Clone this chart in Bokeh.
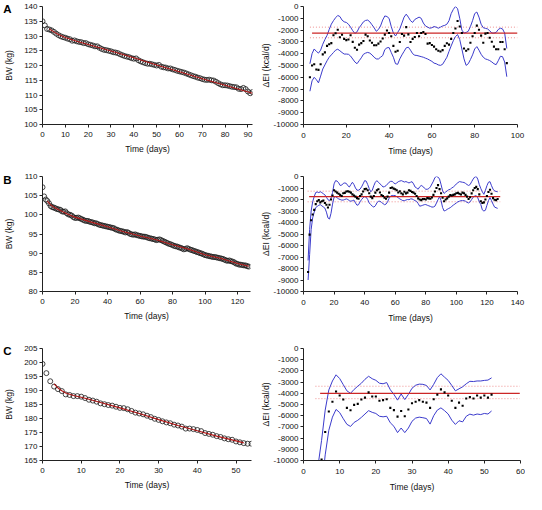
from bokeh.plotting import figure
from bokeh.layouts import column, row
from bokeh.models import Range1d, FixedTicker, LinearAxis
from bokeh.embed import file_html
from bokeh.resources import INLINE

# ---------------- data ----------------
# Panel A : body weight (kg), days 0..92
a_bw_days = list(range(0, 93))
a_bw = [135.0, 133.6, 132.4, 132.2, 131.9, 131.4, 130.8, 130.3, 129.9, 129.6,
        129.4, 129.1, 128.9, 128.4, 128.5, 128.2, 128.0, 127.9, 127.6, 127.6,
        127.2, 127.0, 126.8, 126.5, 126.5, 126.0, 125.6, 125.3, 125.2, 125.0,
        124.8, 124.5, 124.4, 124.2, 123.8, 123.5, 123.2, 123.0, 122.8, 122.5,
        122.3, 122.4, 121.8, 121.4, 121.1, 120.8, 120.6, 120.6, 120.4, 120.2,
        120.0, 120.2, 119.6, 119.4, 119.3, 119.0, 119.0, 118.7, 118.5, 118.2,
        118.0, 117.8, 117.6, 117.3, 117.0, 116.7, 116.4, 116.2, 115.9, 115.7,
        115.4, 115.2, 115.1, 115.2, 115.0, 114.9, 114.5, 114.0, 113.6, 113.3,
        113.3, 113.2, 113.0, 112.8, 112.7, 112.6, 112.1, 112.0, 112.4, 112.0,
        111.2, 110.6, 111.0]
a_fit_days = [3, 5, 7, 10, 15, 20, 25, 30, 40, 50, 60, 70, 80, 92]
a_fit = [132.4, 131.4, 130.5, 129.5, 128.2, 127.1, 126.0, 124.9, 122.6, 120.2, 117.9, 115.5, 113.3, 110.6]

# Panel A : change in energy intake (kcal/d), days 3..95
a_ei_days = list(range(3, 96))
a_ei = [-6000, -5000, -4900, -5340, -5370, -4900, -4060, -3890, -3340, -3200,
        -3100, -2440, -2270, -1970, -2600, -2400, -2740, -2850, -2800, -2440,
        -3000, -3500, -3670, -3230, -3100, -2930, -2380, -2520, -2880, -3070,
        -3290, -3290, -3150, -2960, -2710, -2380, -2030, -2250, -2520, -3340,
        -3840, -3750, -3010, -2330, -2470, -1750, -2360, -3010, -2740, -2580,
        -2250, -2520, -2250, -2160, -2330, -3150, -3100, -3260, -3400, -3620,
        -3750, -3810, -3700, -3340, -3120, -3230, -2740, -2250, -1860, -1230,
        -1700, -2250, -3560, -3750, -3620, -3070, -2520, -2250, -1620, -1970,
        -2470, -3070, -2300, -2250, -2650, -2990, -3400, -3620, -3620, -3010,
        -3010, -3620, -4800]
a_upper = [-4850, -4000, -3600, -3800, -3950, -3700, -3200, -2800, -2450, -1950,
           -1500, -1200, -950, -760, -850, -1150, -1300, -1350, -1500, -1750,
           -2050, -2280, -2150, -1800, -1560, -1300, -1180, -1150, -1300, -1550,
           -1800, -2100, -1950, -1650, -1150, -800, -850, -1010, -1700, -2250,
           -2500, -2200, -1900, -1400, -900, -650, -900, -1200, -1350, -1100,
           -1000, -900, -1000, -1400, -1650, -1750, -1840, -1800, -1700, -1750,
           -1840, -1750, -1650, -1600, -1500, -1200, -600, -250, 0, -190,
           -1000, -2000, -2250, -2200, -2100, -1700, -1200, -600, -470, -900,
           -1500, -1800, -1850, -1900, -2050, -2250, -2250, -2200, -1950, -1840,
           -1900, -2250, -3560]
a_lower = [-7180, -6300, -6000, -6200, -6470, -5900, -5300, -4950, -4600, -4300,
           -4100, -3900, -3700, -3620, -3750, -3900, -4030, -4030, -4050, -4200,
           -4450, -4700, -4850, -4600, -4350, -4050, -3950, -3890, -3950, -4100,
           -4300, -4440, -4450, -4300, -4160, -3650, -3500, -3480, -3900, -4300,
           -4850, -4900, -4440, -4100, -3800, -3500, -3450, -3700, -4000, -4130,
           -4150, -4200, -4250, -4300, -4380, -4450, -4550, -4650, -4800, -4850,
           -4950, -4990, -4900, -4600, -4300, -3800, -3340, -2900, -2550, -2380,
           -2800, -3600, -4440, -4990, -4850, -4500, -4100, -3600, -3400, -3700,
           -4050, -4300, -4440, -4500, -4580, -4700, -4850, -4930, -4600, -4220,
           -4250, -4710, -5950]
a_mean_span = [4, 100]
a_ci_span = [3, 100]
a_mean = -2250
a_ci = [-1750, -2650]

# Panel B : body weight (kg), days 0..127
b_bw_days = list(range(0, 128))
b_bw = [107.2, 104.8, 104.0, 103.6, 103.0, 102.3, 102.0, 101.9, 101.7, 101.5,
        101.4, 101.3, 100.9, 100.8, 100.9, 100.4, 100.1, 100.0, 99.8, 99.4,
        99.2, 99.2, 99.3, 99.1, 98.9, 98.7, 98.5, 98.4, 98.4, 98.2,
        98.1, 98.0, 97.8, 97.8, 97.6, 97.4, 97.3, 97.2, 97.1, 97.0,
        96.9, 96.8, 96.7, 96.6, 96.5, 96.2, 96.1, 95.9, 95.8, 95.7,
        95.6, 95.4, 95.5, 95.3, 95.0, 94.9, 94.8, 94.9, 94.7, 94.6,
        94.5, 94.4, 94.3, 94.3, 94.2, 94.0, 93.9, 93.8, 93.7, 93.6,
        93.4, 93.5, 93.6, 93.4, 93.2, 93.0, 92.8, 92.6, 92.4, 92.3,
        92.1, 91.9, 91.8, 91.7, 91.5, 91.4, 91.2, 91.0, 91.1, 91.3,
        91.1, 90.9, 90.8, 90.6, 90.5, 90.3, 90.2, 90.0, 89.9, 89.7,
        89.5, 89.4, 89.3, 89.2, 89.1, 89.0, 89.0, 88.9, 88.8, 88.7,
        88.6, 88.5, 88.3, 88.1, 88.0, 88.1, 87.9, 87.8, 87.6, 87.3,
        87.2, 87.0, 87.0, 86.9, 86.8, 86.8, 86.6, 86.5]
b_fit_days = [3, 5, 7, 10, 15, 20, 30, 40, 50, 60, 70, 80, 90, 100, 110, 120, 127]
b_fit = [103.6, 102.6, 102.0, 101.3, 100.3, 99.4, 98.1, 96.9, 95.6, 94.5, 93.5, 92.2, 91.0, 89.6, 88.6, 87.3, 86.6]

# Panel B : change in energy intake (kcal/d), days 3..127
b_ei_days = list(range(3, 128))
b_ei = [-8300, -5050, -3800, -3300, -2900, -2400, -2150, -2050, -2250, -2150,
        -2100, -2300, -2450, -2700, -2450, -2000, -1650, -1200, -1300, -1400,
        -1500, -1600, -1700, -1450, -1420, -1300, -1280, -1330, -1400, -1550,
        -1650, -1750, -1880, -1940, -1700, -1550, -1300, -1100, -1060, -1200,
        -1450, -1750, -1880, -1700, -1400, -1200, -1110, -1390, -1610, -1700,
        -1850, -1940, -1750, -1400, -1000, -950, -1050, -1110, -1200, -1390,
        -1280, -1450, -1550, -1330, -1470, -1400, -1200, -1250, -1350, -1400,
        -1500, -1700, -1900, -2000, -2050, -1970, -1950, -2000, -1880, -1900,
        -1940, -1830, -1600, -1300, -1000, -750, -1100, -1450, -1850, -2150,
        -2000, -1900, -1750, -1620, -1650, -1600, -1550, -1450, -1420, -1500,
        -1560, -1400, -1450, -1600, -1750, -1950, -1800, -1470, -1200, -1000,
        -900, -1100, -1550, -2150, -2300, -2250, -2000, -1700, -1350, -1150,
        -1500, -1880, -2020, -2050, -1950]
b_upper = [-7300, -4600, -3000, -2200, -1750, -1390, -1350, -1400, -1330, -1400,
           -1500, -1600, -1800, -2020, -2100, -1900, -1400, -640, -360, -400,
           -550, -780, -750, -600, -560, -600, -800, -915, -700, -500,
           -700, -1000, -1190, -1190, -1100, -900, -640, -360, -400, -700,
           -1050, -1330, -1190, -800, -500, -360, -500, -640, -750, -915,
           -880, -800, -650, -500, -420, -420, -550, -640, -560, -450,
           -400, -360, -420, -480, -440, -500, -560, -500, -450, -640,
           -915, -1000, -1110, -900, -780, -850, -1000, -1110, -1110, -1050,
           -900, -650, -400, -85, 0, -50, -225, -700, -1250, -1470,
           -1350, -1250, -1150, -1110, -1000, -915, -800, -640, -540, -445,
           -470, -500, -520, -600, -700, -780, -700, -450, -225, -50,
           0, -225, -700, -1050, -1330, -1550, -1200, -800, -500, -450,
           -800, -1100, -1250, -1300, -1330]
b_lower = [-9000, -6800, -4600, -3600, -3100, -2700, -2600, -2500, -2450, -2550,
           -2650, -2750, -3100, -3600, -3700, -3200, -2400, -1800, -1750, -1850,
           -1950, -2000, -2050, -2050, -2000, -1950, -2000, -2100, -2150, -2100,
           -2050, -2300, -2500, -2450, -2200, -2000, -1850, -1750, -1800, -2000,
           -2300, -2450, -2580, -2660, -2550, -2300, -2150, -2150, -2250, -2350,
           -2450, -2400, -2200, -1900, -1700, -1650, -1650, -1660, -1750, -1850,
           -1950, -2020, -2100, -2100, -2050, -2000, -2020, -1950, -1950, -2020,
           -2100, -2160, -2350, -2580, -2550, -2500, -2450, -2440, -2500, -2550,
           -2600, -2660, -2650, -2580, -2300, -2020, -1750, -2100, -2700, -3000,
           -2950, -2855, -2780, -2710, -2600, -2490, -2400, -2300, -2200, -2150,
           -2100, -2100, -2100, -2150, -2250, -2300, -2200, -2000, -1800, -1700,
           -1665, -1850, -2200, -2440, -2900, -3000, -2935, -2500, -2100, -1830,
           -2100, -2400, -2660, -2720, -2770]
b_mean_span = [3.7, 128.7]
b_ci_span = [2.7, 128.7]
b_mean = -1750
b_ci = [-1275, -2200]

# Panel C : body weight (kg), days 0..54
c_bw_days = list(range(0, 55))
c_bw = [199.5, 196.2, 193.3, 191.4, 190.5, 189.8, 188.6, 188.4, 188.0, 188.0,
        187.8, 187.3, 186.7, 186.4, 186.0, 185.4, 185.1, 184.8, 184.6, 184.2,
        183.8, 183.7, 183.3, 182.7, 182.1, 181.8, 181.5, 181.0, 180.5, 179.9,
        179.5, 179.0, 178.6, 178.3, 177.8, 177.5, 177.1, 176.4, 176.4, 176.2,
        175.9, 175.5, 174.8, 174.5, 174.2, 173.7, 173.4, 172.9, 172.6, 172.4,
        171.8, 171.5, 171.2, 171.0, 171.0]
c_fit_days = [3, 4, 5, 6, 8, 10, 12, 15, 20, 25, 30, 35, 40, 45, 50, 52]
c_fit = [192.4, 190.9, 189.9, 189.1, 188.2, 187.6, 186.9, 185.7, 183.8, 181.8, 179.6, 177.5, 175.6, 173.7, 172.0, 171.3]

# Panel C : change in energy intake (kcal/d)
c_ei_days = list(range(5, 53))
c_ei = [-9920, -7460, -5630, -4750, -3840, -4200, -4560, -5300, -5520, -5030,
        -4940, -4560, -4390, -3920, -4280, -4280, -4670, -4610, -4530, -5300,
        -5500, -6080, -5580, -6050, -5440, -4890, -4750, -4610, -4750, -4830,
        -5300, -4530, -4120, -3650, -3920, -4200, -4670, -5300, -4830, -5110,
        -4470, -4340, -4470, -4200, -4390, -4200, -4390, -4120]
c_upper_days = list(range(4, 53))
c_upper = [-10500, -8200, -5500, -3700, -2900, -2350, -2680, -3230, -3780, -4000,
           -3650, -3370, -3100, -2750, -2480, -2700, -2840, -3100, -3150, -3040,
           -3680, -4100, -4610, -4060, -4560, -4100, -3550, -3280, -3180, -3200,
           -3300, -3700, -3200, -2600, -2260, -2560, -2850, -3300, -3780, -3600,
           -3420, -3150, -2930, -2950, -2900, -2900, -2850, -2820, -2620]
c_lower_days = list(range(5, 53))
c_lower = [-12500, -9500, -7300, -6130, -5440, -5720, -6270, -6770, -6960, -6600,
           -6410, -6150, -5850, -5550, -5700, -5800, -6050, -6100, -6050, -6630,
           -6950, -7510, -7100, -7510, -7100, -6500, -6210, -6130, -6180, -6250,
           -6750, -6000, -5500, -5300, -5550, -5850, -6400, -6780, -6450, -6550,
           -6050, -5860, -5950, -5850, -5900, -5800, -5850, -5580]
c_mean_span = [4.6, 59.8]
c_ci_span = [3.3, 59.8]
c_mean = -4000
c_ci = [-3370, -4480]

# axis ticks
a_bw_yticks = [100, 105, 110, 115, 120, 125, 130, 135, 140]
a_bw_xticks = [0, 10, 20, 30, 40, 50, 60, 70, 80, 90]
b_bw_yticks = [80, 85, 90, 95, 100, 105, 110]
b_bw_xticks = [0, 20, 40, 60, 80, 100, 120]
c_bw_yticks = [165, 170, 175, 180, 185, 190, 195, 200, 205]
c_bw_xticks = [0, 10, 20, 30, 40, 50]
ei_yticks = [0, -1000, -2000, -3000, -4000, -5000, -6000, -7000, -8000, -9000, -10000]
a_ei_xticks = [0, 20, 40, 60, 80, 100]
b_ei_xticks = [0, 20, 40, 60, 80, 100, 120, 140]
c_ei_xticks = [0, 10, 20, 30, 40, 50, 60]
panel_letters = ["A", "B", "C"]

# ---------------- styling ----------------
S = 0.968
FONT = "Liberation Sans"
BLUE = "#3b3bcc"
RED = "#cc2626"
PINK = "#ee8f8f"
DARKRED = "#b01515"


def sc(v):
    return int(round(S * v))


def make_panel(box, frame, xr, yr, xticks, yticks, xlabel, ylabel, label_sep, x_sep, x_title_sep):
    fx0, fy0, fx1, fy1 = box
    l, t, r, b = frame
    W = sc(fx1) - sc(fx0)
    H = sc(fy1) - sc(fy0)
    p = figure(width=W, height=H,
               min_border_left=sc(l) - sc(fx0), min_border_right=sc(fx1) - sc(r),
               min_border_top=sc(t) - sc(fy0), min_border_bottom=sc(fy1) - sc(b),
               x_range=Range1d(*xr), y_range=Range1d(*yr),
               output_backend="svg", toolbar_location=None)
    p.outline_line_color = None
    p.grid.visible = False
    p.background_fill_color = "white"
    p.border_fill_color = "white"
    p.xaxis.ticker = FixedTicker(ticks=xticks)
    p.yaxis.ticker = FixedTicker(ticks=yticks)
    p.yaxis.major_label_overrides = {v: str(v) for v in yticks}
    p.xaxis.major_label_overrides = {v: str(v) for v in xticks}
    for ax in (p.xaxis, p.yaxis):
        ax.axis_line_color = "#222222"
        ax.axis_line_width = 1
        ax.major_tick_line_color = "#222222"
        ax.major_tick_out = 3
        ax.major_tick_in = 0
        ax.minor_tick_line_color = None
        ax.major_label_text_font = FONT
        ax.major_label_text_font_size = "8px"
        ax.major_label_text_color = "#111111"
        ax.axis_label_text_font = FONT
        ax.axis_label_text_font_size = "8.5px"
        ax.axis_label_text_font_style = "normal"
        ax.axis_label_text_color = "#111111"
    p.yaxis.major_label_standoff = 2
    p.xaxis.major_label_standoff = x_sep
    p.xaxis.axis_label = xlabel
    p.yaxis.axis_label = ylabel
    p.xaxis.axis_label_standoff = x_title_sep
    p.yaxis.axis_label_standoff = label_sep
    return p


def bw_panel(box, frame, xr, yr, xticks, yticks, days, bw, fdays, fit, letter, letter_pos):
    p = make_panel(box, frame, xr, yr, xticks, yticks, "Time (days)", "BW (kg)",
                   label_sep=7, x_sep=4, x_title_sep=4)
    p.scatter(days, bw, marker="circle", size=5, fill_color=None,
              line_color="#1a1a1a", line_width=0.8)
    p.line(fdays, fit, line_color=DARKRED, line_width=1.1)
    # panel letter, drawn as the single label of an extra, line-less left axis
    lax = LinearAxis(ticker=FixedTicker(ticks=[letter_pos]),
                     major_label_overrides={letter_pos: letter},
                     axis_line_color=None, major_tick_line_color=None,
                     minor_tick_line_color=None, major_tick_out=0, major_tick_in=0,
                     major_label_standoff=-10, major_label_orientation="horizontal",
                     major_label_text_font=FONT, major_label_text_font_size="11.5px",
                     major_label_text_font_style="bold", major_label_text_color="black")
    p.add_layout(lax, "left")
    return p


def ei_panel(box, frame, xr, xticks, days, ei, udays, up, ldays, lo, mspan, mean, cspan, ci):
    p = make_panel(box, frame, xr, (-10000, 0), xticks, ei_yticks, "Time (days)", "\u0394EI (kcal/d)",
                   label_sep=0, x_sep=5, x_title_sep=5)
    p.line(cspan, [ci[0], ci[0]], line_color=PINK, line_width=1, line_dash="1 2")
    p.line(cspan, [ci[1], ci[1]], line_color=PINK, line_width=1, line_dash="1 2")
    p.line(udays, up, line_color=BLUE, line_width=1)
    p.line(ldays, lo, line_color=BLUE, line_width=1)
    p.line(mspan, [mean, mean], line_color=RED, line_width=1.3)
    p.scatter(days, ei, marker="square", size=2.1, fill_color="black", line_color=None)
    return p


pA1 = bw_panel((0, 0, 266, 165), (36.7, 5, 260, 127.7), (0, 92), (100, 140),
               a_bw_xticks, a_bw_yticks, a_bw_days, a_bw, a_fit_days, a_fit, panel_letters[0], 139)
pA2 = ei_panel((266, 0, 542, 165), (307.7, 6, 534.3, 127.7), (0, 100), a_ei_xticks,
               a_ei_days, a_ei, a_ei_days, a_upper, a_ei_days, a_lower,
               a_mean_span, a_mean, a_ci_span, a_ci)

pB1 = bw_panel((0, 165, 266, 340), (36.7, 176.7, 258, 301), (0, 128), (80, 110),
               b_bw_xticks, b_bw_yticks, b_bw_days, b_bw, b_fit_days, b_fit, panel_letters[1], 109)
pB2 = ei_panel((266, 165, 542, 340), (306.7, 182.3, 534.3, 302.7), (0, 140), b_ei_xticks,
               b_ei_days, b_ei, b_ei_days, b_upper, b_ei_days, b_lower,
               b_mean_span, b_mean, b_ci_span, b_ci)

pC1 = bw_panel((0, 340, 266, 510), (37.3, 354, 259, 476.7), (0, 54), (165, 205),
               c_bw_xticks, c_bw_yticks, c_bw_days, c_bw, c_fit_days, c_fit, panel_letters[2], 204)
pC2 = ei_panel((266, 340, 542, 510), (308.7, 359.3, 536.7, 480), (0, 60), c_ei_xticks,
               c_ei_days, c_ei, c_upper_days, c_upper, c_lower_days, c_lower,
               c_mean_span, c_mean, c_ci_span, c_ci)

p = column(row(pA1, pA2), row(pB1, pB2), row(pC1, pC2))

open("out.html", "w").write(file_html(p, INLINE))
